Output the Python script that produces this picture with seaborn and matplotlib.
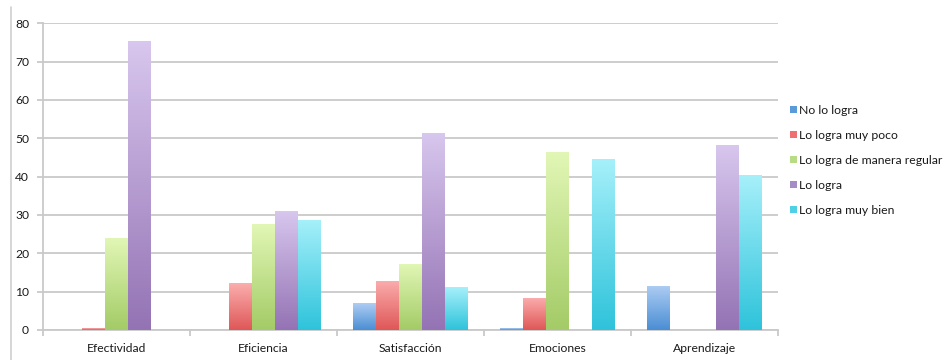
import numpy as np
import pandas as pd
import matplotlib
matplotlib.use("Agg")
import matplotlib.pyplot as plt
from matplotlib.colors import LinearSegmentedColormap
from matplotlib.patches import Patch
from matplotlib.lines import Line2D
import seaborn as sns

categories = ["Efectividad", "Eficiencia", "Satisfacción", "Emociones", "Aprendizaje"]
series = ["No lo logra", "Lo logra muy poco", "Lo logra de manera regular",
          "Lo logra", "Lo logra muy bien"]
no_lo_logra = [0.0, 0.0, 7.0, 0.4, 11.5]
muy_poco = [0.5, 12.2, 12.8, 8.4, 0.0]
regular = [24.0, 27.7, 17.3, 46.5, 0.0]
lo_logra = [75.5, 31.1, 51.5, 0.0, 48.3]
muy_bien = [0.0, 28.7, 11.1, 44.5, 40.3]
y_ticks = [0, 10, 20, 30, 40, 50, 60, 70, 80]

# (bottom colour, top colour, legend swatch colour) for each series
shades = {
    "No lo logra": ("#4a8ed4", "#aecdf3", "#5a9ad8"),
    "Lo logra muy poco": ("#df5757", "#fbaeae", "#ee7070"),
    "Lo logra de manera regular": ("#a3cb66", "#e2f7b6", "#b8dc86"),
    "Lo logra": ("#9473b4", "#d8c7ee", "#a58cc6"),
    "Lo logra muy bien": ("#2ec3db", "#a6f0fa", "#4fd0e4"),
}

values = [no_lo_logra, muy_poco, regular, lo_logra, muy_bien]
df = pd.DataFrame({
    "categoria": np.tile(categories, len(series)),
    "serie": np.repeat(series, len(categories)),
    "valor": np.concatenate(values),
})

sns.set_theme(style="white")
plt.rcParams["font.family"] = ["Lato", "DejaVu Sans"]

fig = plt.figure(figsize=(9.49, 3.6), dpi=100)
ax = fig.add_axes([43 / 949, 1 - 330 / 360, (778 - 43) / 949, (330 - 23.3) / 360])

palette = {s: shades[s][2] for s in series}
sns.barplot(data=df, x="categoria", y="valor", hue="serie", order=categories,
            hue_order=series, palette=palette, width=0.78, ax=ax,
            legend=False, saturation=1, errorbar=None, linewidth=0)

ax.set_ylim(0, 80)
ax.set_xlim(-0.5, 4.5)
ax.set_autoscale_on(False)

# vertical gradient fill on every bar
grad = np.linspace(0, 1, 256).reshape(-1, 1)
for s, container in zip(series, ax.containers):
    cmap = LinearSegmentedColormap.from_list(s, [shades[s][0], shades[s][1]])
    for bar in container:
        h = bar.get_height()
        if h <= 0:
            continue
        x0 = bar.get_x()
        w = bar.get_width()
        im = ax.imshow(grad, cmap=cmap, origin="lower", aspect="auto",
                       extent=[x0, x0 + w, 0, h], zorder=3, interpolation="bilinear")
        im.set_clip_path(bar)

ax.set_yticks(y_ticks)
ax.yaxis.grid(True, color="#c9c9c9", linewidth=1.3)
ax.set_axisbelow(True)
for side in ["right", "top"]:
    ax.spines[side].set_visible(False)
for side in ["left", "bottom"]:
    ax.spines[side].set_color("#c9c9c9")
    ax.spines[side].set_linewidth(1.3)
ax.spines["bottom"].set_zorder(2.5)

ax.set_xlabel("")
ax.set_ylabel("")
ax.set_xticks(range(len(categories)))
ax.set_xticklabels(categories, fontsize=8.7, color="#1a1a1a")
ax.tick_params(axis="x", length=0, pad=9)
ax.tick_params(axis="y", length=4, width=1.3, color="#c9c9c9", labelsize=8.7,
               labelcolor="#1a1a1a", pad=6, left=True)
# category boundary ticks below the baseline
ax.set_xticks(np.arange(-0.5, 5.0, 1.0), minor=True)
ax.tick_params(axis="x", which="minor", length=4, width=1.3, color="#c9c9c9", bottom=True)

# frame line at left of the chart
fig.add_artist(Line2D([11 / 949, 11 / 949], [0, 1 - 7 / 360], transform=fig.transFigure,
                      color="#cfcfcf", linewidth=1.2))

handles = [Patch(facecolor=shades[s][2], edgecolor="none") for s in series]
leg = fig.legend(handles, series, loc="upper left", bbox_to_anchor=(785 / 949, 1 - 100 / 360),
                 frameon=False, fontsize=8.8, handlelength=0.55, handleheight=0.55,
                 handletextpad=0.2, labelspacing=1.15, borderaxespad=0)
for t in leg.get_texts():
    t.set_color("#1a1a1a")

fig.savefig("out.png", dpi=100)
